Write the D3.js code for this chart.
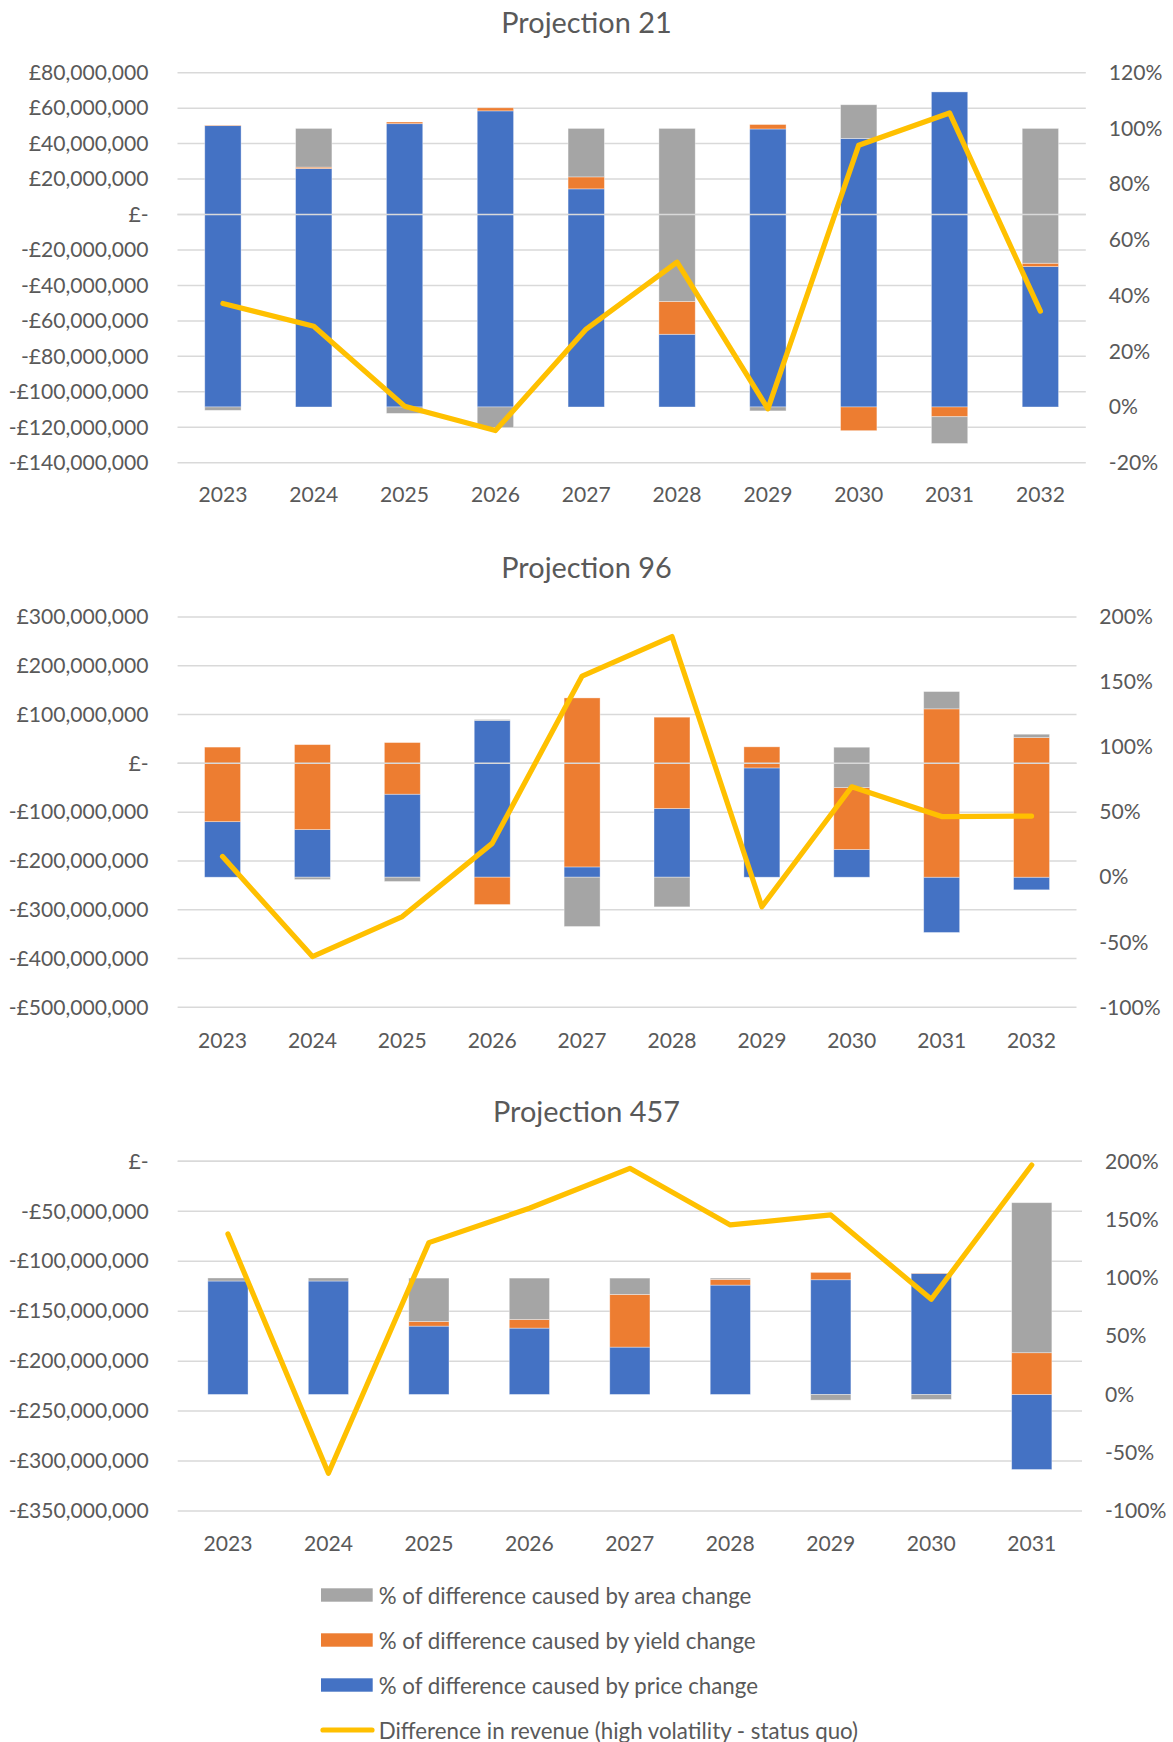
<!DOCTYPE html>
<html>
<head>
<meta charset="utf-8">
<script src="https://cdn.jsdelivr.net/npm/d3@7"></script>
<style>
  html, body { margin: 0; padding: 0; background: #ffffff; }
  svg { display: block; }
  text { font-family: Lato, "Open Sans", "Noto Sans", sans-serif; fill: #595959; }
</style>
</head>
<body>
<svg id="chart" width="1173" height="1742"></svg>
<script>
// ---------------- DATA ----------------
const seriesNames = [
  "% of difference caused by area change",
  "% of difference caused by yield change",
  "% of difference caused by price change",
  "Difference in revenue (high volatility - status quo)"
];

// Projection 21
const years21 = ["2023","2024","2025","2026","2027","2028","2029","2030","2031","2032"];
const priceShare21 = [101.0, 85.6, 101.7, 106.3, 78.3, 26.1, 99.8, 96.4, 113.1, 50.4];
const yieldShare21 = [0.2, 0.5, 0.6, 1.1, 4.3, 11.8, 1.6, -8.5, -3.5, 1.2];
const areaShare21  = [-1.2, 13.9, -2.3, -7.4, 17.4, 62.1, -1.4, 12.1, -9.6, 48.4];
const revenueDiff21 = [-50200000, -63000000, -108100000, -121900000, -64600000, -26900000, -109600000, 39100000, 57300000, -54500000];
const moneyTicks21 = [80e6, 60e6, 40e6, 20e6, 0, -20e6, -40e6, -60e6, -80e6, -100e6, -120e6, -140e6];
const pctTicks21 = [120, 100, 80, 60, 40, 20, 0, -20];

// Projection 96
const years96 = ["2023","2024","2025","2026","2027","2028","2029","2030","2031","2032"];
const priceShare96 = [42.7, 36.6, 63.8, 120.4, 7.9, 52.8, 84.0, 21.3, -42.5, -9.7];
const yieldShare96 = [57.3, 65.3, 39.7, -21.0, 129.9, 70.2, 16.2, 47.6, 129.4, 107.3];
const areaShare96  = [0, -1.8, -3.3, 0.8, -37.9, -22.8, 0, 31.0, 13.3, 2.6];
const revenueDiff96 = [-191000000, -396000000, -314000000, -164000000, 179000000, 260000000, -294000000, -48000000, -109000000, -108000000];
const moneyTicks96 = [300e6, 200e6, 100e6, 0, -100e6, -200e6, -300e6, -400e6, -500e6];
const pctTicks96 = [200, 150, 100, 50, 0, -50, -100];

// Projection 457
const years457 = ["2023","2024","2025","2026","2027","2028","2029","2030","2031"];
const priceShare457 = [97.3, 97.3, 58.6, 56.9, 40.6, 93.8, 98.4, 103.8, -64.4];
const yieldShare457 = [0, 0, 4.0, 7.4, 45.2, 4.9, 6.3, 0.3, 35.8];
const areaShare457  = [2.6, 2.6, 37.2, 35.5, 14.0, 1.1, -4.9, -4.3, 128.7];
const revenueDiff457 = [-72700000, -312200000, -81400000, -47000000, -7000000, -63700000, -53700000, -138100000, -3700000];
const moneyTicks457 = [0, -50e6, -100e6, -150e6, -200e6, -250e6, -300e6, -350e6];
const pctTicks457 = [200, 150, 100, 50, 0, -50, -100];

// ---------------- STYLE ----------------
const colors = { price: "#4472C4", yield: "#ED7D31", area: "#A5A5A5", line: "#FFC000", grid: "#D9D9D9", text: "#595959" };

const panels = [
  { title: "Projection 21", years: years21, price: priceShare21, yld: yieldShare21, area: areaShare21, rev: revenueDiff21,
    moneyTicks: moneyTicks21, pctTicks: pctTicks21, top: 72.7, bottom: 462.7, left: 177.5, right: 1085.8,
    titleY: 21.7, yearY: 493.3, pctX: 1108.8 },
  { title: "Projection 96", years: years96, price: priceShare96, yld: yieldShare96, area: areaShare96, rev: revenueDiff96,
    moneyTicks: moneyTicks96, pctTicks: pctTicks96, top: 617, bottom: 1007.3, left: 177.6, right: 1076.5,
    titleY: 566.7, yearY: 1039.5, pctX: 1099.2 },
  { title: "Projection 457", years: years457, price: priceShare457, yld: yieldShare457, area: areaShare457, rev: revenueDiff457,
    moneyTicks: moneyTicks457, pctTicks: pctTicks457, top: 1161.3, bottom: 1511, left: 177.7, right: 1082,
    titleY: 1110.7, yearY: 1542, pctX: 1105 }
];

const svg = d3.select("#chart");
const FONT = 'Lato, "Open Sans", "Noto Sans", sans-serif';

// fit font sizes to the widths of the reference text
function fitSize(str, target) {
  const t = svg.append("text").attr("font-size", 100).style("font-family", FONT).text(str);
  const w = t.node().getComputedTextLength();
  t.remove();
  return 100 * target / w;
}
const tickSize = (fitSize("-£140,000,000", 140) + fitSize("£80,000,000", 119.8)) / 2;
const titleSize = fitSize("Projection 21", 170.4);
const legendSize = fitSize(seriesNames[0], 372.8);

const moneyFmt = v => {
  if (v === 0) return "£-";
  const s = d3.format(",")(Math.abs(v));
  return (v < 0 ? "-£" : "£") + s;
};

panels.forEach(p => {
  const g = svg.append("g");
  const x = d3.scaleBand().domain(p.years).range([p.left, p.right]).paddingInner(0.6).paddingOuter(0.3);
  const yMoney = d3.scaleLinear().domain([d3.min(p.moneyTicks), d3.max(p.moneyTicks)]).range([p.bottom, p.top]);
  const yPct = d3.scaleLinear().domain([d3.min(p.pctTicks), d3.max(p.pctTicks)]).range([p.bottom, p.top]);

  // title
  g.append("text").attr("x", 586.5).attr("y", p.titleY).attr("text-anchor", "middle")
    .attr("dominant-baseline", "central").attr("font-size", titleSize).text(p.title);

  // gridlines (primary axis)
  g.append("g").selectAll("line").data(p.moneyTicks).join("line")
    .attr("x1", p.left).attr("x2", p.right)
    .attr("y1", d => yMoney(d)).attr("y2", d => yMoney(d))
    .attr("stroke", colors.grid).attr("stroke-width", 1.5);

  // left axis labels
  const leftAxis = d3.axisLeft(yMoney).tickValues(p.moneyTicks).tickFormat(moneyFmt).tickSize(0).tickPadding(29);
  const la = g.append("g").attr("transform", `translate(${p.left},0)`).call(leftAxis);
  la.select(".domain").remove();
  la.selectAll("text").attr("font-size", tickSize).style("font-family", FONT).attr("fill", colors.text);

  // right axis labels
  const rightAxis = d3.axisRight(yPct).tickValues(p.pctTicks).tickFormat(d => d + "%").tickSize(0).tickPadding(p.pctX - p.right);
  const ra = g.append("g").attr("transform", `translate(${p.right},0)`).call(rightAxis);
  ra.select(".domain").remove();
  ra.selectAll("text").attr("font-size", tickSize).style("font-family", FONT).attr("fill", colors.text);

  // bottom axis labels
  const bottomAxis = d3.axisBottom(x).tickSize(0).tickPadding(p.yearY - p.bottom - tickSize * 0.36);
  const ba = g.append("g").attr("transform", `translate(0,${p.bottom})`).call(bottomAxis);
  ba.select(".domain").remove();
  ba.selectAll("text").attr("font-size", tickSize).style("font-family", FONT).attr("fill", colors.text)
    .attr("dy", null).attr("dominant-baseline", "central")
    .attr("y", p.yearY - p.bottom);

  // stacked bars (secondary % axis)
  const rows = p.years.map((yr, i) => ({ year: yr, price: p.price[i], yield: p.yld[i], area: p.area[i] }));
  const stack = d3.stack().keys(["price", "yield", "area"]).offset(d3.stackOffsetDiverging);
  const layers = stack(rows);
  g.append("g").selectAll("g").data(layers).join("g")
    .attr("fill", d => colors[d.key])
    .selectAll("rect").data(d => d).join("rect")
    .attr("x", d => x(d.data.year))
    .attr("width", x.bandwidth())
    .attr("y", d => yPct(Math.max(d[0], d[1])))
    .attr("height", d => Math.abs(yPct(d[0]) - yPct(d[1])))
    .attr("stroke", "#ffffff").attr("stroke-opacity", 0.45).attr("stroke-width", 0.8);

  // zero axis line drawn over the bars
  g.append("line").attr("x1", p.left).attr("x2", p.right)
    .attr("y1", yMoney(0)).attr("y2", yMoney(0))
    .attr("stroke", colors.grid).attr("stroke-width", 1.5);

  // revenue line (primary £ axis)
  const line = d3.line()
    .x((d, i) => x(p.years[i]) + x.bandwidth() / 2)
    .y(d => yMoney(d));
  g.append("path").datum(p.rev).attr("d", line)
    .attr("fill", "none").attr("stroke", colors.line).attr("stroke-width", 5.2)
    .attr("stroke-linejoin", "round").attr("stroke-linecap", "round");
});

// ---------------- LEGEND ----------------
const legendItems = [
  { name: seriesNames[0], color: colors.area, type: "rect" },
  { name: seriesNames[1], color: colors.yield, type: "rect" },
  { name: seriesNames[2], color: colors.price, type: "rect" },
  { name: seriesNames[3], color: colors.line, type: "line" }
];
const legendY = d3.scalePoint().domain(legendItems.map(d => d.name)).range([1595, 1730]);
const lg = svg.append("g");
const li = lg.selectAll("g").data(legendItems).join("g")
  .attr("transform", d => `translate(321,${legendY(d.name)})`);
li.filter(d => d.type === "rect").append("rect")
  .attr("x", 0).attr("y", -6.7).attr("width", 51.7).attr("height", 13.4).attr("fill", d => d.color);
li.filter(d => d.type === "line").append("line")
  .attr("x1", 2).attr("x2", 51).attr("y1", 0).attr("y2", 0)
  .attr("stroke", d => d.color).attr("stroke-width", 5.2).attr("stroke-linecap", "round");
li.append("text").attr("x", 57.7).attr("y", 0).attr("dominant-baseline", "central")
  .attr("font-size", legendSize).text(d => d.name);
</script>
</body>
</html>
